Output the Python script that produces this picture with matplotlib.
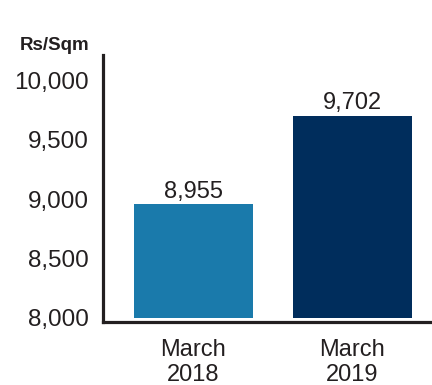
import matplotlib
matplotlib.use("Agg")
import matplotlib.pyplot as plt
from matplotlib.ticker import FuncFormatter

categories = ["March\n2018", "March\n2019"]
values = [8955, 9702]
bar_colors = ["#1a7aab", "#002d5c"]
yticks = [8000, 8500, 9000, 9500, 10000]
unit_label = "Rs/Sqm"

plt.rcParams["font.family"] = ["Liberation Sans", "DejaVu Sans"]
text_color = "#231f20"

fig = plt.figure(figsize=(4.32, 3.85), dpi=100)
ax = fig.add_axes([0.238, 0.164, 0.762, 0.692])

x = list(range(len(categories)))
base = yticks[0]
ax.bar(x, [v - base for v in values], bottom=base, width=0.748, color=bar_colors)
for xi, v in zip(x, values):
    ax.text(xi, v + 15, f"{v:,}", ha="center", va="bottom", fontsize=17, color=text_color)

ax.set_xlim(-0.569, 1.5)
ax.set_ylim(7966, 10210)
ax.set_yticks(yticks)
ax.yaxis.set_major_formatter(FuncFormatter(lambda v, p: f"{int(v):,}"))
ax.set_xticks(x)
ax.set_xticklabels(categories)
ax.tick_params(axis="y", length=0, pad=10, labelsize=17.5, labelcolor=text_color)
ax.tick_params(axis="x", length=0, pad=12, labelsize=17, labelcolor=text_color)
for lbl in ax.get_xticklabels():
    lbl.set_linespacing(1.2)

for s in ["top", "right"]:
    ax.spines[s].set_visible(False)
for s in ["left", "bottom"]:
    ax.spines[s].set_linewidth(2.3)
    ax.spines[s].set_color(text_color)

fig.text(55 / 432, 1 - 45 / 385, unit_label, ha="center", va="center",
         fontsize=13.5, fontweight="bold", color=text_color)

fig.savefig("out.png", dpi=100)
